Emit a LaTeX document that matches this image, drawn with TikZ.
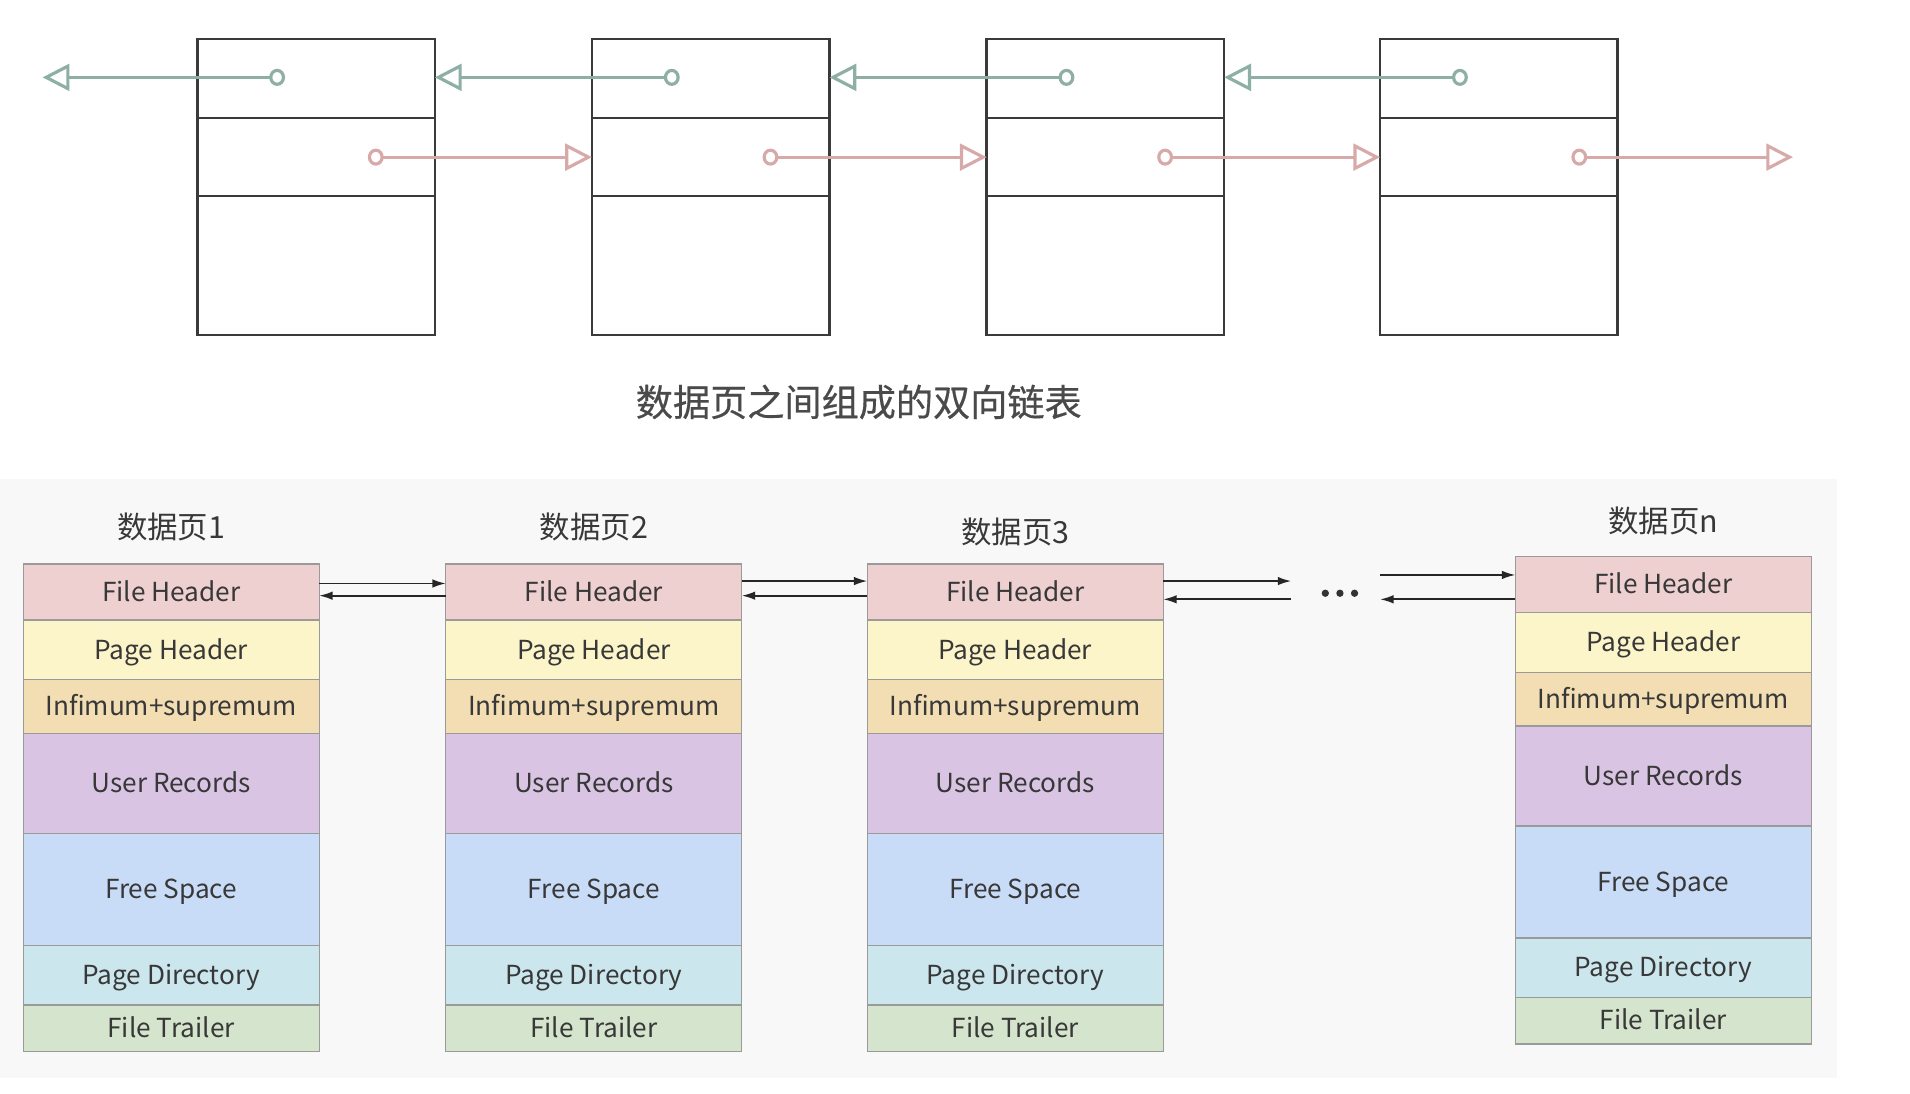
\documentclass[tikz,border=0pt]{standalone}
\usepackage{fontspec}
\setmainfont{Noto Sans CJK SC}
\newfontfamily\capfont{Noto Sans CJK SC}[FakeBold=0.5]
\usetikzlibrary{arrows.meta}
\definecolor{cFH}{HTML}{EFD0D0}
\definecolor{cPH}{HTML}{FCF5CA}
\definecolor{cIS}{HTML}{F3DEB3}
\definecolor{cUR}{HTML}{D9C4E4}
\definecolor{cFS}{HTML}{C9DCF7}
\definecolor{cPD}{HTML}{CCE6EE}
\definecolor{cFT}{HTML}{D5E4CC}
\definecolor{cellline}{HTML}{9A9A9A}
\definecolor{celltext}{HTML}{383838}
\definecolor{bggray}{HTML}{F8F8F8}
\definecolor{prevgreen}{HTML}{8EAFA6}
\definecolor{nextpink}{HTML}{D8A9A9}
\definecolor{boxline}{HTML}{3A3A3A}
\definecolor{captext}{HTML}{4A4A4A}

\newcommand\pagecolumn[5]{%
  \node[cellbox,fill=cFH,minimum height=46pt,anchor=north] (#1fh) at ({#2+121.5},#3) {File Header};
  \node[cellbox,fill=cPH,minimum height=49pt,anchor=north] (#1ph) at (#1fh.south) {Page Header};
  \node[cellbox,fill=cIS,minimum height=44pt,anchor=north] (#1is) at (#1ph.south) {Infimum+supremum};
  \node[cellbox,fill=cUR,minimum height=82pt,anchor=north] (#1ur) at (#1is.south) {User Records};
  \node[cellbox,fill=cFS,minimum height=92pt,anchor=north] (#1fs) at (#1ur.south) {Free Space};
  \node[cellbox,fill=cPD,minimum height=49pt,anchor=north] (#1pd) at (#1fs.south) {Page Directory};
  \node[cellbox,fill=cFT,minimum height=38pt,anchor=north] (#1ft) at (#1pd.south) {File Trailer};
  \node[pagelabel] (#1lab) at ({#2+121.5},#5) {#4};
}

\begin{document}
\begin{tikzpicture}[x=1pt,y=-1pt,
  cellbox/.style={draw=cellline,line width=1pt,minimum width=243pt,inner sep=0pt,outer sep=0pt,
    text height=19pt,text depth=4pt,
    text=celltext,font=\fontsize{21.5}{24}\selectfont},
  pagelabel/.style={text=celltext,font=\fontsize{25}{28}\selectfont,inner sep=0pt},
  topbox/.style={draw=boxline,line width=2pt,minimum width=195pt,minimum height=243pt,inner sep=0pt,outer sep=0pt},
  prevlink/.style={draw=prevgreen,line width=2.6pt,
    {Circle[open,length=13pt,width=14pt]}-{Triangle[open,length=22pt,width=22pt]}},
  nextlink/.style={draw=nextpink,line width=2.6pt,
    {Circle[open,length=13pt,width=14pt]}-{Triangle[open,length=22pt,width=22pt]}},
  blink/.style={draw=black!85,line width=1.4pt,-{Latex[length=11pt,width=7pt]}}
]
\useasboundingbox (0,0) rectangle (1568,898);
\fill[white] (0,0) rectangle (1568,898);
\fill[bggray] (0,393) rectangle (1508,885);

% top linked pages
\foreach \i/\x in {1/162,2/486,3/810,4/1133}{
  \node[topbox,anchor=north west] (tb\i) at (\x,32) {};
  \draw[boxline,line width=2pt] (\x,97) -- ++(195,0);
  \draw[boxline,line width=2pt] (\x,161) -- ++(195,0);
  \coordinate (gp\i) at ({\x+72},63.5);
  \coordinate (np\i) at ({\x+140},129);
}
\coordinate (leftend) at (35,63.5);
\coordinate (np4) at (1290,129);
\coordinate (rightend) at (1472,129);

\draw[prevlink] (gp1) -- (leftend);
\draw[prevlink] (gp2) -- (tb1.east |- gp2);
\draw[prevlink] (gp3) -- (tb2.east |- gp3);
\draw[prevlink] (gp4) -- (tb3.east |- gp4);

\draw[nextlink] (np1) -- (tb2.west |- np1);
\draw[nextlink] (np2) -- (tb3.west |- np2);
\draw[nextlink] (np3) -- (tb4.west |- np3);
\draw[nextlink] (np4) -- (rightend);

\node[text=captext,font=\capfont\fontsize{30.5}{34}\selectfont,inner sep=0pt] (caption) at (705,330) {数据页之间组成的双向链表};

% bottom page structures
\pagecolumn{ca}{19}{463}{数据页1}{433}
\pagecolumn{cb}{366}{463}{数据页2}{433}
\pagecolumn{cc}{712}{463}{数据页3}{437}
\pagecolumn{cn}{1244}{457}{数据页n}{428}

\coordinate (d1) at (1060,477);
\coordinate (d2) at (1060,492);
\coordinate (d3) at (1133,472);
\coordinate (d4) at (1133,492);

\draw[blink] ([yshift=7pt]cafh.east) -- ([yshift=7pt]cbfh.west);
\draw[blink] ([yshift=-3pt]cbfh.west) -- ([yshift=-3pt]cafh.east);
\draw[blink] ([yshift=9pt]cbfh.east) -- ([yshift=9pt]ccfh.west);
\draw[blink] ([yshift=-3pt]ccfh.west) -- ([yshift=-3pt]cbfh.east);
\draw[blink] (ccfh.east |- d1) -- (d1);
\draw[blink] (d2) -- (ccfh.east |- d2);
\draw[blink] (d3) -- (cnfh.west |- d3);
\draw[blink] (cnfh.west |- d4) -- (d4);

\foreach \dx in {1088,1100,1112}{\fill[black!80] (\dx,487) circle (3pt);}
\end{tikzpicture}
\end{document}
